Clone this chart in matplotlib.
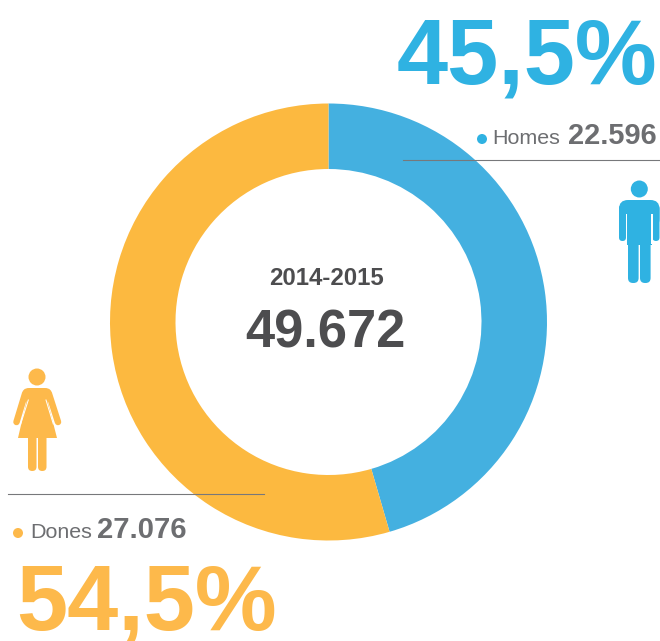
import matplotlib
matplotlib.use("Agg")
import matplotlib.pyplot as plt
from matplotlib.patches import Circle, FancyBboxPatch, Polygon, Rectangle

W, H = 660, 641
categories = ["Homes", "Dones"]
values = [22596, 27076]
value_labels = ["22.596", "27.076"]
percent_labels = ["45,5%", "54,5%"]
period = "2014-2015"
total_label = "49.672"

BLUE, ORANGE = "#44B0E0", "#FCB940"
BLUE_TXT, ORANGE_TXT = "#2FB2E2", "#FDB94B"
GREY = "#6D6E71"
DARK = "#4D4D4F"
plt.rcParams["font.family"] = ["Liberation Sans", "DejaVu Sans"]
px = 72 / 100

fig = plt.figure(figsize=(W / 100, H / 100), dpi=100, facecolor="white")

cx, cy, R, r = 328.5, 322, 218.5, 153
axp = fig.add_axes([(cx - R) / W, 1 - (cy + R) / H, 2 * R / W, 2 * R / H])
axp.pie(values, colors=[BLUE, ORANGE], startangle=90, counterclock=False, radius=1,
        wedgeprops=dict(width=1 - r / R, linewidth=0))
axp.set_xlim(-1, 1); axp.set_ylim(-1, 1); axp.axis("off")

ax = fig.add_axes([0, 0, 1, 1], zorder=3)
ax.set_xlim(0, W); ax.set_ylim(H, 0); ax.axis("off"); ax.patch.set_alpha(0)

def t(x, y, s, size, color, bold=False, ha="left"):
    ax.text(x, y, s, fontsize=size * px, color=color, ha=ha, va="baseline",
            fontweight="bold" if bold else "normal")

t(326, 285, period, 24, DARK, True, "center")
t(325.5, 347, total_label, 52.5, DARK, True, "center")

t(657, 83, percent_labels[0], 92, BLUE_TXT, True, "right")
t(16, 630, percent_labels[1], 92, ORANGE_TXT, True, "left")

ax.add_patch(Circle((482, 139), 5, color=BLUE_TXT, lw=0))
t(492, 144, categories[0], 21.5, GREY)
t(657, 144, value_labels[0], 29, GREY, True, "right")
ax.add_patch(Circle((18, 533), 5, color=ORANGE_TXT, lw=0))
t(30, 538, categories[1], 21.5, GREY)
t(97, 538, value_labels[1], 29.3, GREY, True)

ax.plot([403, 659], [160, 160], color="#77787B", lw=1 * px * 1.1)
ax.plot([8, 264], [493.5, 493.5], color="#77787B", lw=1 * px * 1.1)

def rr(x0, y0, x1, y1, rad, c):
    ax.add_patch(FancyBboxPatch((x0 + rad, y0 + rad), x1 - x0 - 2 * rad, y1 - y0 - 2 * rad,
                                boxstyle=f"round,pad={rad},rounding_size={rad}", fc=c, ec="none"))

# man icon
c = BLUE_TXT
ax.add_patch(Circle((639.3, 189), 8.5, color=c, lw=0))
rr(619, 200, 659.5, 228, 9, c)
rr(619, 205, 626, 241, 3.5, c)
rr(652.5, 205, 659.5, 241, 3.5, c)
ax.add_patch(Rectangle((627, 205), 24.5, 40, fc=c, ec="none"))
ax.add_patch(Rectangle((626, 214), 1.2, 30, fc="white", ec="none", zorder=2))
ax.add_patch(Rectangle((651.3, 214), 1.2, 30, fc="white", ec="none", zorder=2))
rr(628, 235, 638.6, 283, 5, c)
rr(640, 235, 650.6, 283, 5, c)

# woman icon
c = ORANGE_TXT
ax.add_patch(Circle((37, 377), 8.5, color=c, lw=0))
rr(22, 388, 52, 402, 7, c)
ax.add_patch(Polygon([[28, 395], [46, 395], [57, 438], [18, 438]], fc=c, ec="none"))
ax.plot([25, 16.5], [394, 422], color=c, lw=6.5 * px, solid_capstyle="round", zorder=2)
ax.plot([49, 58], [394, 422], color=c, lw=6.5 * px, solid_capstyle="round", zorder=2)
ax.plot([28.3, 20.7], [400, 424], color="white", lw=1 * px, zorder=2.5)
ax.plot([46, 53.3], [400, 424], color="white", lw=1 * px, zorder=2.5)
rr(28, 430, 36.5, 471, 4.2, c)
rr(38, 430, 46.5, 471, 4.2, c)

fig.savefig("out.png", dpi=100, facecolor="white")
